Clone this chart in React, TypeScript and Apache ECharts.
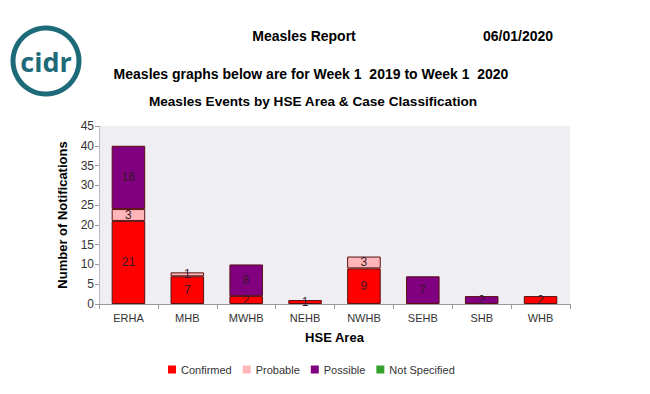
import React, { useEffect, useRef } from "react";
import * as echarts from "echarts";

const categories = ["ERHA", "MHB", "MWHB", "NEHB", "NWHB", "SEHB", "SHB", "WHB"];
const confirmed = [21, 7, 2, 1, 9, 0, 0, 2];
const probable = [3, 1, 0, 0, 3, 0, 0, 0];
const possible = [16, 0, 8, 0, 0, 7, 2, 0];
const notSpecified = [0, 0, 0, 0, 0, 0, 0, 0];
const seriesNames = ["Confirmed", "Probable", "Possible", "Not Specified"];
const seriesColors = ["#ff0000", "#ffb6b9", "#800080", "#33a02c"];

const FONT = "Liberation Sans, Arial, sans-serif";

export default function App() {
  const ref = useRef<HTMLDivElement>(null);
  useEffect(() => {
    if (!ref.current) return;
    document.body.style.margin = "0";
    const chart = echarts.init(ref.current, null, { renderer: "svg" });
    const mk = (name: string, values: number[], color: string) => ({
      name,
      type: "bar",
      stack: "total",
      barWidth: "57%",
      data: values.map((v) => (v === 0 ? "-" : v)),
      itemStyle: { color, borderColor: "#5a1010", borderWidth: 1 },
      label: {
        show: true,
        position: "inside",
        color: "#3a1a2a",
        fontFamily: FONT,
        fontSize: 12,
        formatter: (p: any) => (p.value ? String(p.value) : ""),
      },
    });
    chart.setOption({
      animation: false,
      textStyle: { fontFamily: FONT },
      grid: {
        left: 99,
        right: 80,
        top: 126,
        bottom: 90,
        show: true,
        backgroundColor: "#efeff3",
        borderWidth: 0,
      },
      legend: {
        top: 359,
        left: 163,
        itemWidth: 8,
        itemHeight: 8,
        itemGap: 11,
        icon: "rect",
        itemStyle: { borderWidth: 0 },
        textStyle: { fontSize: 11, color: "#333", fontFamily: FONT },
        data: seriesNames,
      },
      xAxis: {
        type: "category",
        data: categories,
        name: "HSE Area",
        nameLocation: "middle",
        nameGap: 27,
        nameTextStyle: { fontWeight: "bold", fontSize: 13, color: "#000", fontFamily: FONT },
        axisLine: { lineStyle: { color: "#999" } },
        axisTick: { show: true, lineStyle: { color: "#999" } },
        axisLabel: { color: "#333", fontSize: 11, fontFamily: FONT },
      },
      yAxis: {
        type: "value",
        min: 0,
        max: 45,
        interval: 5,
        name: "Number of Notifications",
        nameLocation: "middle",
        nameGap: 30,
        nameTextStyle: { fontWeight: "bold", fontSize: 13, color: "#000", fontFamily: FONT },
        axisLine: { show: true, lineStyle: { color: "#bbb" } },
        axisTick: { show: true, length: 4, lineStyle: { color: "#999" } },
        axisLabel: { color: "#333", fontSize: 12, margin: 5, fontFamily: FONT },
        splitLine: { show: false },
      },
      graphic: [
        {
          type: "circle",
          shape: { cx: 46, cy: 61, r: 33 },
          style: { fill: "none", stroke: "#1d6a78", lineWidth: 5 },
        },
        {
          type: "text",
          x: 46,
          y: 61,
          style: {
            text: "cidr",
            fill: "#1d6a78",
            font: "bold 27px 'Open Sans', sans-serif",
            align: "center",
            verticalAlign: "middle",
          },
        },
        {
          type: "text",
          x: 304,
          y: 36,
          style: { text: "Measles Report", fill: "#000", font: `bold 14px ${FONT}`, align: "center", verticalAlign: "middle" },
        },
        {
          type: "text",
          x: 518,
          y: 36,
          style: { text: "06/01/2020", fill: "#000", font: `bold 14px ${FONT}`, align: "center", verticalAlign: "middle" },
        },
        {
          type: "text",
          x: 311,
          y: 74,
          style: {
            text: "Measles graphs below are for Week 1  2019 to Week 1  2020",
            fill: "#000",
            font: `bold 14px ${FONT}`,
            align: "center",
            verticalAlign: "middle",
          },
        },
        {
          type: "text",
          x: 313,
          y: 101,
          style: {
            text: "Measles Events by HSE Area & Case Classification",
            fill: "#000",
            font: `bold 13.6px ${FONT}`,
            align: "center",
            verticalAlign: "middle",
          },
        },
      ],
      series: [
        mk(seriesNames[0], confirmed, seriesColors[0]),
        mk(seriesNames[1], probable, seriesColors[1]),
        mk(seriesNames[2], possible, seriesColors[2]),
        mk(seriesNames[3], notSpecified, seriesColors[3]),
      ],
    });
    return () => chart.dispose();
  }, []);
  return <div ref={ref} style={{ width: 650, height: 394 }} />;
}
